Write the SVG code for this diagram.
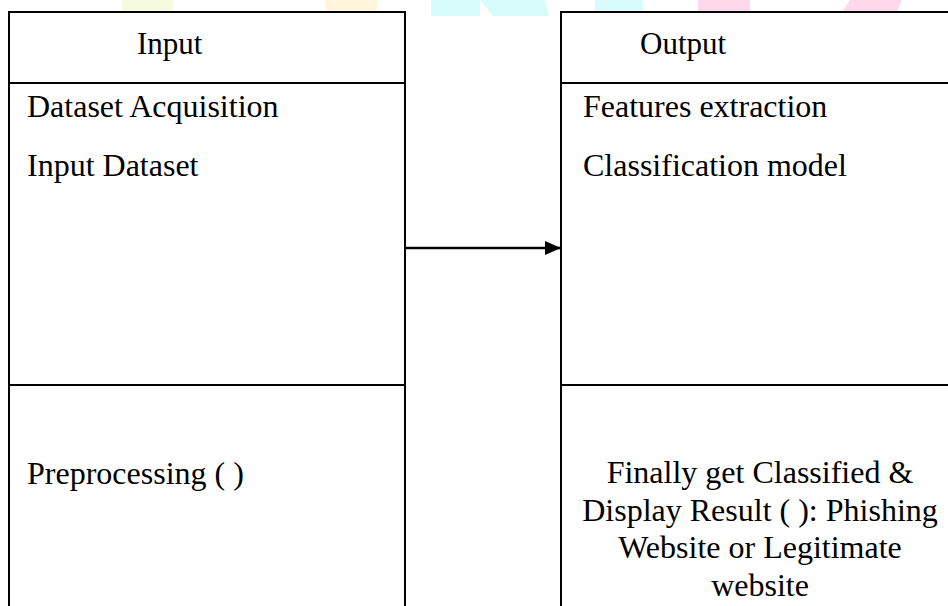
<svg xmlns="http://www.w3.org/2000/svg" width="948" height="606" viewBox="0 0 948 606">
  <style>
    .box { fill: #ffffff; stroke: #000000; stroke-width: 2; }
    .rule { stroke: #000000; stroke-width: 2; }
    .t { font-family: "Liberation Serif", "Times New Roman", serif; font-size: 32px; fill: #000000; }
    .head { font-size: 31px; }
    .mid { text-anchor: middle; }
    .wm { opacity: 0.75; }
  </style>
  <defs>
    <marker id="arrow" markerWidth="16" markerHeight="14" refX="16" refY="7" orient="auto" markerUnits="userSpaceOnUse">
      <path d="M0,0 L16,7 L0,14 Z" fill="#000000"/>
    </marker>
  </defs>

  <rect x="0" y="0" width="948" height="606" fill="#ffffff"/>

  <!-- faint logo strip along the top edge -->
  <g id="logo-strip" class="wm">
    <rect x="122" y="0" width="51" height="11" fill="#f3fad2"/>
    <rect x="325" y="0" width="52" height="11" fill="#fff4cf"/>
    <rect x="431" y="0" width="49" height="16" fill="#ccfbfb"/>
    <polygon points="480,0 545,0 549,16 493,16" fill="#ccfbfb"/>
    <rect x="595" y="0" width="48" height="12" fill="#ccfbfb"/>
    <rect x="698" y="0" width="52" height="12" fill="#ffcce2"/>
    <polygon points="850,0 902,0 897,12 842,12" fill="#ffcce2"/>
  </g>

  <!-- input panel -->
  <g id="input-panel">
    <rect class="box" x="9" y="12" width="396" height="610"/>
    <line class="rule" x1="9" y1="83" x2="405" y2="83"/>
    <line class="rule" x1="9" y1="385" x2="405" y2="385"/>
    <text class="t head" x="137" y="54">Input</text>
    <text class="t" x="27" y="117">Dataset Acquisition</text>
    <text class="t" x="27" y="176">Input Dataset</text>
    <text class="t" x="27" y="484">Preprocessing ( )</text>
  </g>

  <!-- output panel -->
  <g id="output-panel">
    <rect class="box" x="561" y="12" width="400" height="610"/>
    <line class="rule" x1="561" y1="83" x2="948" y2="83"/>
    <line class="rule" x1="561" y1="385" x2="948" y2="385"/>
    <text class="t head" x="640" y="54">Output</text>
    <text class="t" x="583" y="117">Features extraction</text>
    <text class="t" x="583" y="176">Classification model</text>
    <text class="t mid" x="760" y="483">Finally get Classified &amp;</text>
    <text class="t mid" x="760" y="521">Display Result ( ): Phishing</text>
    <text class="t mid" x="760" y="558">Website or Legitimate</text>
    <text class="t mid" x="760" y="596">website</text>
  </g>

  <!-- connectors -->
  <g id="connectors">
    <line x1="405" y1="248" x2="561" y2="248" stroke="#000000" stroke-width="2.5" marker-end="url(#arrow)"/>
  </g>
</svg>
